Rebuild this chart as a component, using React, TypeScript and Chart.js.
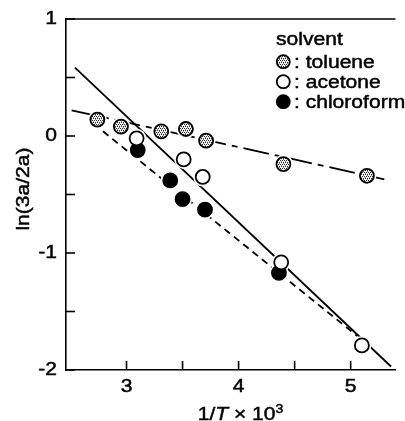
import React, { useEffect, useRef } from 'react';
import { Chart, registerables } from 'chart.js';
Chart.register(...registerables);

// Data
const tolueneX = [2.74, 2.95, 3.31, 3.53, 3.71, 4.4, 5.145];
const tolueneY = [0.14, 0.08, 0.04, 0.06, -0.04, -0.24, -0.34];
const acetoneX = [3.09, 3.51, 3.68, 4.38, 5.1];
const acetoneY = [-0.02, -0.2, -0.35, -1.08, -1.79];
const chloroformX = [3.1, 3.39, 3.5, 3.7, 4.36];
const chloroformY = [-0.12, -0.38, -0.54, -0.63, -1.17];

const tolueneFitX = [2.51, 5.3];
const tolueneFitY = [0.22, -0.37];
const acetoneFitX = [2.54, 5.36];
const acetoneFitY = [0.585, -1.97];
const chloroformFitX = [2.79, 5.06];
const chloroformFitY = [0.04, -1.71];

const xTickValues = [3, 3.5, 4, 4.5, 5];
const yTickValues = [-2, -1.5, -1, -0.5, 0, 0.5, 1];
const xTickLabels = ['3', '4', '5'];
const xLabelValues = [3, 4, 5];
const yTickLabels = ['-2', '-1', '0', '1'];
const yLabelValues = [-2, -1, 0, 1];

const legendTitle = 'solvent';
const legendLabels = [': toluene', ': acetone', ': chloroform'];

const FONT = '"Liberation Sans", Arial, sans-serif';
const SX = 1.17;

const pts = (xs: number[], ys: number[]) => xs.map((x, i) => ({ x, y: ys[i] }));

function makePattern(): CanvasPattern | string {
  const c = document.createElement('canvas');
  c.width = 4;
  c.height = 4;
  const g = c.getContext('2d');
  if (!g) return '#999';
  g.fillStyle = '#f4f4f4';
  g.fillRect(0, 0, 4, 4);
  g.fillStyle = '#2a2a2a';
  g.fillRect(0, 0, 1, 1);
  g.fillRect(2, 0, 1, 1);
  g.fillRect(1, 2, 1, 1);
  g.fillRect(3, 2, 1, 1);
  g.fillStyle = '#888';
  g.fillRect(1, 1, 1, 1);
  g.fillRect(3, 3, 1, 1);
  const p = g.createPattern(c, 'repeat');
  return p || '#999';
}

function drawStretched(ctx: CanvasRenderingContext2D, text: string, x: number, y: number, align: 'left' | 'right' | 'center', font: string) {
  ctx.save();
  ctx.font = font;
  const w = ctx.measureText(text).width * SX;
  let left = x;
  if (align === 'right') left = x - w;
  if (align === 'center') left = x - w / 2;
  ctx.translate(left, y);
  ctx.scale(SX, 1);
  ctx.textAlign = 'left';
  ctx.fillText(text, 0, 0);
  ctx.lineWidth = 0.45;
  ctx.strokeStyle = '#000';
  ctx.strokeText(text, 0, 0);
  ctx.restore();
}

export default function App() {
  const ref = useRef<HTMLCanvasElement | null>(null);
  useEffect(() => {
    if (!ref.current) return;
    const pattern = makePattern();

    const decor = {
      id: 'decor',
      afterDraw(chart: any) {
        const ctx: CanvasRenderingContext2D = chart.ctx;
        const { left, right, top, bottom } = chart.chartArea;
        const xs = chart.scales.x;
        const ys = chart.scales.y;
        ctx.save();
        ctx.strokeStyle = '#000';
        ctx.fillStyle = '#000';
        ctx.lineWidth = 1.6;
        // top frame
        ctx.beginPath();
        ctx.moveTo(left, top);
        ctx.lineTo(right, top);
        ctx.stroke();
        // inward ticks
        xTickValues.forEach((v) => {
          const px = xs.getPixelForValue(v);
          ctx.beginPath();
          ctx.moveTo(px, bottom);
          ctx.lineTo(px, bottom - 9);
          ctx.stroke();
        });
        yTickValues.forEach((v) => {
          const py = ys.getPixelForValue(v);
          ctx.beginPath();
          ctx.moveTo(left, py);
          ctx.lineTo(left + 9, py);
          ctx.stroke();
        });
        const f = `18px ${FONT}`;
        ctx.textBaseline = 'middle';
        yLabelValues.forEach((v, i) => {
          drawStretched(ctx, yTickLabels[i], left - 9, ys.getPixelForValue(v) + 0.5, 'right', f);
        });
        ctx.textBaseline = 'alphabetic';
        xLabelValues.forEach((v, i) => {
          drawStretched(ctx, xTickLabels[i], xs.getPixelForValue(v), bottom + 22, 'center', f);
        });
        // x title: 1/T × 10^3
        const parts: { t: string; font: string; dy: number }[] = [
          { t: '1/', font: f, dy: 0 },
          { t: 'T', font: `italic 18px ${FONT}`, dy: 0 },
          { t: ' \u00d7 10', font: f, dy: 0 },
          { t: '3', font: `12px ${FONT}`, dy: -7 },
        ];
        let total = 0;
        const widths = parts.map((p) => {
          ctx.font = p.font;
          const w = ctx.measureText(p.t).width * SX;
          total += w;
          return w;
        });
        let cx = 240.5 - total / 2;
        parts.forEach((p, i) => {
          drawStretched(ctx, p.t, cx, 420 + p.dy, 'left', p.font);
          cx += widths[i];
        });
        // y title
        ctx.save();
        ctx.translate(29, 189);
        ctx.rotate(-Math.PI / 2);
        ctx.textBaseline = 'alphabetic';
        drawStretched(ctx, 'ln(3a/2a)', 0, 0, 'center', f);
        ctx.restore();
        // legend
        drawStretched(ctx, legendTitle, 276, 45, 'left', f);
        const styles = [
          { fill: pattern, stroke: '#000' },
          { fill: '#fff', stroke: '#000' },
          { fill: '#000', stroke: '#000' },
        ];
        legendLabels.forEach((lab, i) => {
          const cy = 61.7 + i * 20;
          ctx.beginPath();
          ctx.arc(283.3, cy, 6.5, 0, Math.PI * 2);
          ctx.fillStyle = styles[i].fill as any;
          ctx.fill();
          ctx.lineWidth = 1.8;
          ctx.strokeStyle = '#000';
          ctx.stroke();
          ctx.fillStyle = '#000';
          drawStretched(ctx, lab, 294, cy + 6, 'left', f);
        });
        ctx.restore();
      },
    };

    const allX = [...tolueneX, ...acetoneX, ...chloroformX];
    const allY = [...tolueneY, ...acetoneY, ...chloroformY];

    const chart = new Chart(ref.current, {
      type: 'scatter',
      data: {
        datasets: [
          {
            label: 'toluene fit',
            data: pts(tolueneFitX, tolueneFitY),
            showLine: true,
            pointRadius: 0,
            borderColor: '#000',
            borderWidth: 1.8,
            borderDash: [26, 6, 6, 6],
            order: 3,
          },
          {
            label: 'acetone fit',
            data: pts(acetoneFitX, acetoneFitY),
            showLine: true,
            pointRadius: 0,
            borderColor: '#000',
            borderWidth: 1.8,
            order: 3,
          },
          {
            label: 'chloroform fit',
            data: pts(chloroformFitX, chloroformFitY),
            showLine: true,
            pointRadius: 0,
            borderColor: '#000',
            borderWidth: 1.8,
            borderDash: [7, 5],
            order: 3,
          },
          {
            label: 'halo',
            data: pts(allX, allY),
            pointRadius: 9.5,
            pointBackgroundColor: '#fff',
            pointBorderWidth: 0,
            pointBorderColor: '#fff',
            order: 2,
          },
          {
            label: 'toluene',
            data: pts(tolueneX, tolueneY),
            pointRadius: 7,
            pointBackgroundColor: pattern as any,
            pointBorderColor: '#000',
            pointBorderWidth: 1.8,
            order: 1,
          },
          {
            label: 'acetone',
            data: pts(acetoneX, acetoneY),
            pointRadius: 7,
            pointBackgroundColor: '#fff',
            pointBorderColor: '#000',
            pointBorderWidth: 1.8,
            order: 1,
          },
          {
            label: 'chloroform',
            data: pts(chloroformX, chloroformY),
            pointRadius: 7,
            pointBackgroundColor: '#000',
            pointBorderColor: '#000',
            pointBorderWidth: 1.8,
            order: 1,
          },
        ],
      },
      options: {
        responsive: false,
        animation: false,
        layout: { padding: { top: 19, right: 0, left: 0, bottom: 0 } },
        plugins: { legend: { display: false }, tooltip: { enabled: false } },
        scales: {
          x: {
            type: 'linear',
            min: 2.46,
            max: 5.4,
            afterBuildTicks: (s: any) => {
              s.ticks = xTickValues.map((v) => ({ value: v }));
            },
            afterFit: (s: any) => {
              s.height = 51;
            },
            ticks: { display: false },
            grid: { display: false, drawTicks: false },
            border: { display: true, color: '#000', width: 1.6 },
          },
          y: {
            type: 'linear',
            min: -2,
            max: 1,
            afterBuildTicks: (s: any) => {
              s.ticks = yTickValues.map((v) => ({ value: v }));
            },
            afterFit: (s: any) => {
              s.width = 66;
            },
            ticks: { display: false },
            grid: { display: false, drawTicks: false },
            border: { display: true, color: '#000', width: 1.6 },
          },
        },
      },
      plugins: [decor],
    });
    return () => chart.destroy();
  }, []);

  return (
    <div style={{ position: 'absolute', left: 0, top: 0, width: 405, height: 421, background: '#fff' }}>
      <canvas ref={ref} width={405} height={421} />
    </div>
  );
}
